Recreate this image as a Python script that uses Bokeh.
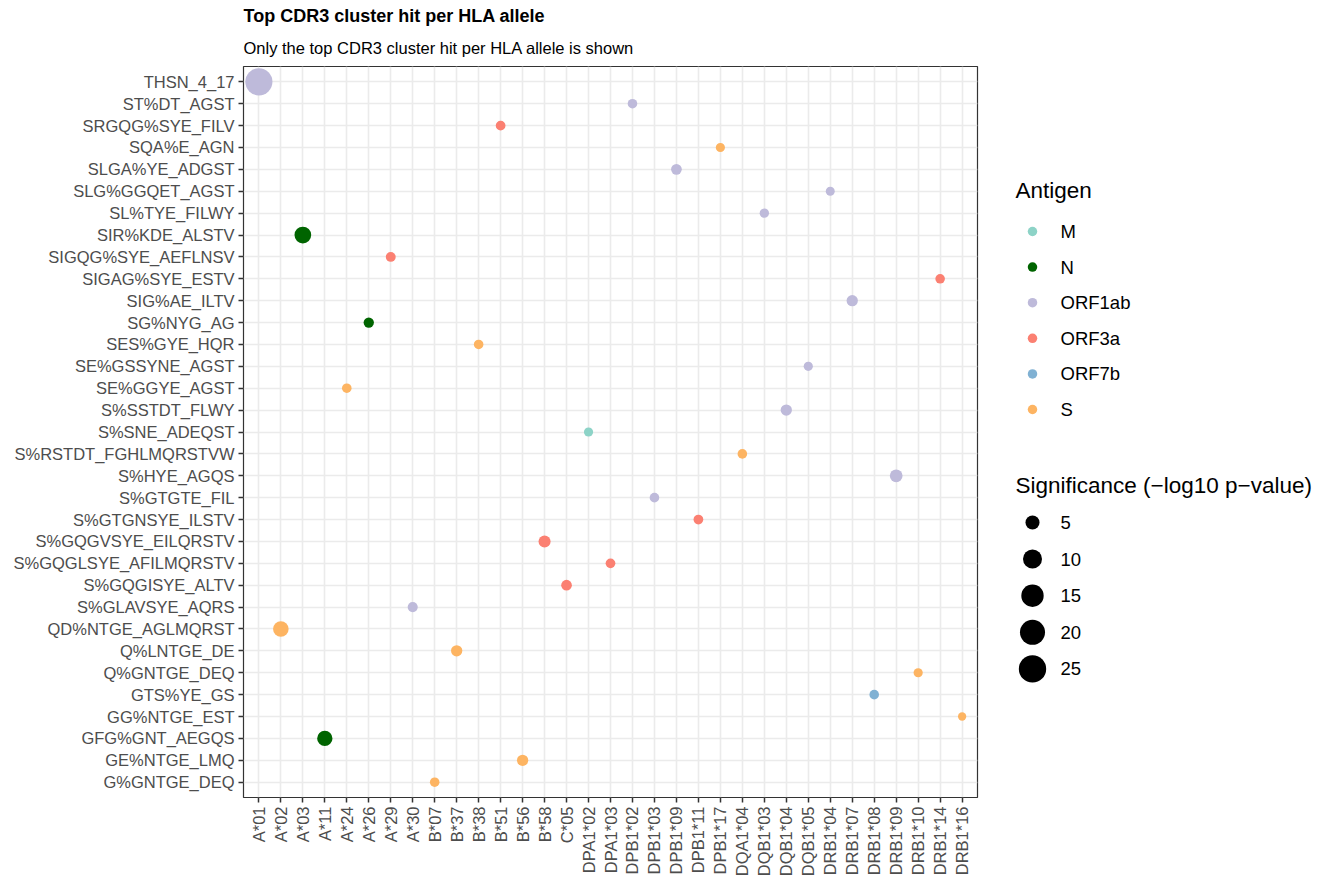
import numpy as np
from bokeh.plotting import figure
from bokeh.models import ColumnDataSource, FactorRange, Range1d, Title
from bokeh.layouts import row
from bokeh.embed import file_html
from bokeh.resources import INLINE
from bokeh.core.properties import value
from bokeh.transform import factor_cmap

# ---------------- data ----------------
alleles = ["A*01", "A*02", "A*03", "A*11", "A*24", "A*26", "A*29", "A*30",
           "B*07", "B*37", "B*38", "B*51", "B*56", "B*58", "C*05",
           "DPA1*02", "DPA1*03", "DPB1*02", "DPB1*03", "DPB1*09", "DPB1*11",
           "DPB1*17", "DQA1*04", "DQB1*03", "DQB1*04", "DQB1*05",
           "DRB1*04", "DRB1*07", "DRB1*08", "DRB1*09", "DRB1*10", "DRB1*14", "DRB1*16"]

top_cluster = ["THSN_4_17", "QD%NTGE_AGLMQRST", "SIR%KDE_ALSTV", "GFG%GNT_AEGQS",
               "SE%GGYE_AGST", "SG%NYG_AG", "SIGQG%SYE_AEFLNSV", "S%GLAVSYE_AQRS",
               "G%GNTGE_DEQ", "Q%LNTGE_DE", "SES%GYE_HQR", "SRGQG%SYE_FILV",
               "GE%NTGE_LMQ", "S%GQGVSYE_EILQRSTV", "S%GQGISYE_ALTV",
               "S%SNE_ADEQST", "S%GQGLSYE_AFILMQRSTV", "ST%DT_AGST", "S%GTGTE_FIL",
               "SLGA%YE_ADGST", "S%GTGNSYE_ILSTV", "SQA%E_AGN", "S%RSTDT_FGHLMQRSTVW",
               "SL%TYE_FILWY", "S%SSTDT_FLWY", "SE%GSSYNE_AGST", "SLG%GGQET_AGST",
               "SIG%AE_ILTV", "GTS%YE_GS", "S%HYE_AGQS", "Q%GNTGE_DEQ",
               "SIGAG%SYE_ESTV", "GG%NTGE_EST"]

antigen = ["ORF1ab", "S", "N", "N", "S", "N", "ORF3a", "ORF1ab",
           "S", "S", "S", "ORF3a", "S", "ORF3a", "ORF3a",
           "M", "ORF3a", "ORF1ab", "ORF1ab", "ORF1ab", "ORF3a",
           "S", "S", "ORF1ab", "ORF1ab", "ORF1ab",
           "ORF1ab", "ORF1ab", "ORF7b", "ORF1ab", "S", "ORF3a", "S"]

significance = [24.5, 6.2, 7.3, 6.0, 3.1, 3.25, 3.15, 3.2,
                3.1, 3.55, 3.1, 3.13, 3.55, 3.85, 3.35,
                3.05, 3.13, 3.1, 3.1, 3.35, 3.13,
                3.05, 3.1, 3.07, 3.55, 3.05,
                3.03, 3.55, 3.1, 4.2, 3.05, 3.1, 3.0]

# y levels, top to bottom
cluster_levels = ["THSN_4_17", "ST%DT_AGST", "SRGQG%SYE_FILV", "SQA%E_AGN",
                  "SLGA%YE_ADGST", "SLG%GGQET_AGST", "SL%TYE_FILWY", "SIR%KDE_ALSTV",
                  "SIGQG%SYE_AEFLNSV", "SIGAG%SYE_ESTV", "SIG%AE_ILTV", "SG%NYG_AG",
                  "SES%GYE_HQR", "SE%GSSYNE_AGST", "SE%GGYE_AGST", "S%SSTDT_FLWY",
                  "S%SNE_ADEQST", "S%RSTDT_FGHLMQRSTVW", "S%HYE_AGQS", "S%GTGTE_FIL",
                  "S%GTGNSYE_ILSTV", "S%GQGVSYE_EILQRSTV", "S%GQGLSYE_AFILMQRSTV",
                  "S%GQGISYE_ALTV", "S%GLAVSYE_AQRS", "QD%NTGE_AGLMQRST", "Q%LNTGE_DE",
                  "Q%GNTGE_DEQ", "GTS%YE_GS", "GG%NTGE_EST", "GFG%GNT_AEGQS",
                  "GE%NTGE_LMQ", "G%GNTGE_DEQ"]

antigen_levels = ["M", "N", "ORF1ab", "ORF3a", "ORF7b", "S"]
antigen_colors = ["#8DD3C7", "#006400", "#BEBADA", "#FB8072", "#80B1D3", "#FDB462"]
size_breaks = [5, 10, 15, 20, 25]

# ---------------- styling ----------------
FONT = "Liberation Sans"
D_LO, K = 8.3, 4.06
V_LO = min(significance)
TOP, BOTTOM = 66, 83
H = 880


def diam(v):
    return D_LO + K * np.sqrt(np.maximum(np.asarray(v, dtype=float) - V_LO, 0))


src = ColumnDataSource(dict(x=alleles, y=top_cluster, antigen=antigen,
                            sig=significance, size=diam(significance)))

p = figure(width=1000, height=H,
           x_range=FactorRange(factors=alleles, range_padding=0.2,
                               range_padding_units="absolute"),
           y_range=FactorRange(factors=list(reversed(cluster_levels)), range_padding=0.2,
                               range_padding_units="absolute"),
           output_backend="svg", toolbar_location=None, title=None,
           min_border_left=243, min_border_right=23, min_border_top=TOP,
           min_border_bottom=BOTTOM)

p.add_layout(Title(text="Only the top CDR3 cluster hit per HLA allele is shown",
                   text_font_size="16.5px", text_font_style="normal", text_font=FONT,
                   text_color="black", standoff=20), "above")
p.add_layout(Title(text="Top CDR3 cluster hit per HLA allele",
                   text_font_size="18px", text_font_style="bold", text_font=FONT,
                   text_color="black", standoff=2), "above")

p.scatter(x="x", y="y", size="size", source=src, line_color=None,
          fill_color=factor_cmap("antigen", antigen_colors, antigen_levels))

p.xaxis.major_label_orientation = np.pi / 2
for ax in (p.xaxis, p.yaxis):
    ax.major_label_text_font = FONT
    ax.major_label_text_font_size = "16.5px"
    ax.major_label_text_color = "#4D4D4D"
    ax.axis_line_color = None
    ax.major_tick_line_color = "#333333"
    ax.major_tick_line_width = 1.5
    ax.major_tick_out = 5
    ax.major_tick_in = 0
    ax.minor_tick_line_color = None
    ax.major_label_standoff = 4
p.outline_line_color = "#333333"
p.outline_line_width = 1.2
p.grid.grid_line_color = "#EBEBEB"
p.grid.grid_line_width = 1.6
p.background_fill_color = "white"
p.border_fill_color = "white"

# ---------------- legend panel (coordinates = page pixels) ----------------
lg = figure(width=329, height=H, x_range=Range1d(0, 329), y_range=Range1d(H - BOTTOM, TOP),
            output_backend="svg", toolbar_location=None, title=None,
            x_axis_type=None, y_axis_type=None,
            min_border_left=0, min_border_right=0, min_border_top=TOP,
            min_border_bottom=BOTTOM)
lg.grid.visible = False
lg.outline_line_color = None

key_x, lab_x, title_x = 32, 60, 15

# Antigen legend
ay0, astep = 231, 35.6
ay = [ay0 + i * astep for i in range(len(antigen_levels))]
lg.text(x=[title_x], y=[ay0 - 41], text=["Antigen"], text_font=value(FONT),
        text_font_size="22.5px", text_baseline="middle", text_color="black")
lg.scatter(x=[key_x] * len(antigen_levels), y=ay, size=9.5,
           fill_color=antigen_colors, line_color=None)
lg.text(x=[lab_x] * len(antigen_levels), y=ay, text=antigen_levels, text_font=value(FONT),
        text_font_size="18.5px", text_baseline="middle", text_color="black")

# Size legend
sy0, sstep = 522, 36.6
sy = [sy0 + i * sstep for i in range(len(size_breaks))]
lg.text(x=[title_x], y=[sy0 - 37], text=["Significance (\u2212log10 p\u2212value)"],
        text_font=value(FONT), text_font_size="22.5px", text_baseline="middle",
        text_color="black")
lg.scatter(x=[key_x] * len(size_breaks), y=sy, size=diam(size_breaks),
           fill_color="black", line_color=None)
lg.text(x=[lab_x] * len(size_breaks), y=sy, text=[str(b) for b in size_breaks],
        text_font=value(FONT), text_font_size="18.5px", text_baseline="middle",
        text_color="black")

layout = row(p, lg)
open("out.html", "w").write(file_html(layout, INLINE))
